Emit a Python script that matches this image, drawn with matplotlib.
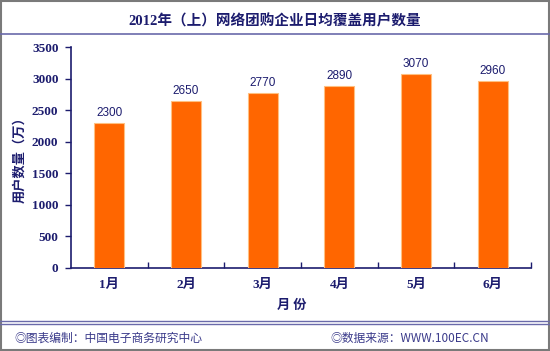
import matplotlib
matplotlib.use("Agg")
import matplotlib.pyplot as plt
from matplotlib.patches import Rectangle
from matplotlib.lines import Line2D

months = ["1月", "2月", "3月", "4月", "5月", "6月"]
users = [2300, 2650, 2770, 2890, 3070, 2960]
yticks = [0, 500, 1000, 1500, 2000, 2500, 3000, 3500]
title = "2012年（上）网络团购企业日均覆盖用户数量"
ylabel = "用户数量（万）"
xlabel = "月 份"
foot_left = "◎图表编制：中国电子商务研究中心"
foot_right = "◎数据来源：WWW.100EC.CN"

navy = "#1c1c6e"
cjk = ["Noto Sans CJK SC", "DejaVu Sans"]
serif = ["Liberation Serif", "Noto Sans CJK SC"]
plt.rcParams['font.family'] = cjk

W, H = 550, 351
fig = plt.figure(figsize=(W / 100, H / 100), dpi=100)
fig.patch.set_facecolor("white")

def fx(x): return x / W
def fy(y): return 1 - y / H

ax = fig.add_axes([fx(71), fy(268), fx(531) - fx(71), fy(47) - fy(268)])
x = list(range(len(months)))
ax.bar(x, users, width=0.39, color="#FF6600", edgecolor="#FFC080", linewidth=0.8, zorder=3)
for xi, v in zip(x, users):
    ax.text(xi, v + 60, str(v), ha="center", va="bottom", fontsize=8.5,
            color=navy, family=["Liberation Sans", "DejaVu Sans"])
ax.set_xlim(-0.5, len(months) - 0.5)
ax.set_ylim(0, 3500)
ax.set_yticks(yticks)
ax.set_yticklabels([str(t) for t in yticks], family=serif, fontweight="bold",
                   fontsize=9.5, color=navy)
ax.set_xticks(x)
ax.set_xticklabels(months, family=serif, fontweight="bold", fontsize=9.5, color=navy)
ax.set_xticks([i + 0.5 for i in x], minor=True)
ax.tick_params(axis="x", which="major", length=0, pad=8)
ax.tick_params(axis="x", which="minor", length=4, color=navy, direction="in", width=1)
ax.tick_params(axis="y", length=4, color=navy, width=1, pad=5)
for s in ["top", "right"]:
    ax.spines[s].set_visible(False)
for s in ["left", "bottom"]:
    ax.spines[s].set_color(navy)
    ax.spines[s].set_linewidth(1.2)

fig.text(fx(275), fy(21), title, ha="center", va="center", fontsize=10.5,
         fontweight="bold", color=navy, family=serif)
fig.text(fx(19), fy(157), ylabel, ha="center", va="center", rotation=90,
         fontsize=9.5, fontweight="bold", color=navy)
fig.text(fx(292), fy(305), xlabel, ha="center", va="center", fontsize=9.5,
         fontweight="bold", color=navy)
fig.text(fx(14), fy(338), foot_left, ha="left", va="center", fontsize=8.5, color="#3a3a8a")
fig.text(fx(489), fy(338), foot_right, ha="right", va="center", fontsize=8.5, color="#3a3a8a")

line_c = "#6a6aaa"
fig.add_artist(Line2D([0, 1], [fy(34), fy(34)], color=line_c, lw=1.2))
fig.add_artist(Line2D([0, 1], [fy(320.5), fy(320.5)], color=line_c, lw=1.0))
fig.add_artist(Line2D([0, 1], [fy(323.5), fy(323.5)], color=line_c, lw=1.0))
fig.add_artist(Rectangle((0.001, 0.002), 0.997, 0.996, transform=fig.transFigure,
                         fill=False, edgecolor="#7a7a7a", lw=1.5))

fig.savefig("out.png", dpi=100, facecolor="white")
